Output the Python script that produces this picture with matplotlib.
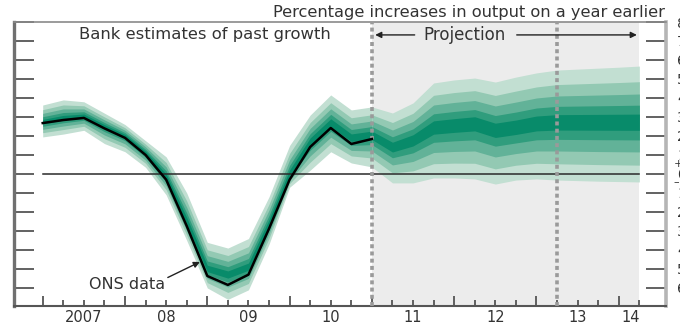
import matplotlib.pyplot as plt

# quarterly observations, plotted at the end of each quarter
past_x = [2007.0, 2007.25, 2007.5, 2007.75, 2008.0, 2008.25, 2008.5, 2008.75,
          2009.0, 2009.25, 2009.5, 2009.75, 2010.0, 2010.25, 2010.5, 2010.75, 2011.0]
ons_growth = [2.68, 2.84, 2.95, 2.4, 1.9, 1.0, -0.3, -2.74,
              -5.37, -5.84, -5.3, -2.88, -0.3, 1.42, 2.42, 1.58, 1.84]
past_mode = [2.75, 2.95, 3.05, 2.5, 2.0, 1.1, -0.15, -2.5,
             -5.0, -5.3, -4.9, -2.6, 0.0, 1.7, 2.7, 1.9, 2.05]
past_upper = [3.63, 3.9, 3.8, 3.2, 2.6, 1.75, 0.9, -1.0,
              -3.6, -3.9, -3.4, -1.2, 1.5, 3.1, 4.16, 3.37, 3.53]
past_lower = [1.95, 2.1, 2.3, 1.6, 1.17, 0.35, -1.1, -3.5,
              -6.0, -6.6, -6.1, -3.7, -0.7, 0.2, 1.17, 0.58, 0.37]

proj_x = [2011.0, 2011.25, 2011.5, 2011.75, 2012.0, 2012.25, 2012.5,
          2012.75, 2013.0, 2013.25, 2013.5, 2013.75, 2014.0, 2014.25]
proj_mode = [2.05, 1.42, 1.79, 2.47, 2.58, 2.68, 2.32,
             2.47, 2.68, 2.74, 2.74, 2.74, 2.74, 2.74]
proj_upper = [3.53, 3.21, 3.74, 4.79, 4.95, 5.05, 4.84,
              5.1, 5.32, 5.47, 5.52, 5.57, 5.62, 5.68]
proj_lower = [0.37, -0.47, -0.47, -0.21, -0.21, -0.26, -0.53,
              -0.32, -0.26, -0.32, -0.35, -0.38, -0.4, -0.42]

# share of the outer band covered by each shade, outside in
band_frac = [1.0, 0.72, 0.5, 0.3, 0.14]
band_colors = ['#c2dfd2', '#93c9b3', '#62b298', '#309d7d', '#088b6a']

years = [2007, 2008, 2009, 2010, 2011, 2012, 2013, 2014]
year_labels = ['2007', '08', '09', '10', '11', '12', '13', '14']
year_label_x = [2007.5, 2008.5, 2009.5, 2010.5, 2011.5, 2012.5, 2013.5, 2014.15]
two_year_line = 2013.25

TXT = '#333333'


def draw_fan(ax, x, mode, lo, hi):
    for frac, col in zip(band_frac, band_colors):
        low = [m - frac * (m - l) for m, l in zip(mode, lo)]
        high = [m + frac * (h - m) for m, h in zip(mode, hi)]
        ax.fill_between(x, low, high, color=col, lw=0, zorder=2)


fig = plt.figure(figsize=(6.8, 3.23), dpi=100)
ax = fig.add_axes([14 / 680, 17 / 323, 652 / 680, 284 / 323])
ax.set_xlim(2006.651, 2014.574)
ax.set_ylim(-6.95, 8.0)

# shaded projection period
ax.axvspan(proj_x[0], proj_x[-1], color='#ececec', lw=0, zorder=0)

draw_fan(ax, past_x, past_mode, past_lower, past_upper)
draw_fan(ax, proj_x, proj_mode, proj_lower, proj_upper)

ax.plot([past_x[0], proj_x[-1]], [0, 0], color='#2a2a2a', lw=1.1, zorder=3)
for xv in [proj_x[0], two_year_line]:
    ax.axvline(xv, color='#9a9a9a', lw=2.6, ls=(0, (1.1, 0.9)), zorder=4)

ax.plot(past_x, ons_growth, color='black', lw=1.8, zorder=5)

# spines
ax.spines['left'].set_color('#707070')
ax.spines['left'].set_linewidth(2.4)
ax.spines['right'].set_color('#b5b5b5')
ax.spines['right'].set_linewidth(2.6)
ax.spines['top'].set_color('#8a8a8a')
ax.spines['top'].set_linewidth(1.2)
ax.spines['bottom'].set_color('#555555')
ax.spines['bottom'].set_linewidth(1.5)

# y ticks, labels on the right only (mostly cut by the image edge)
yt = list(range(-6, 9))
ax.set_yticks(yt)
ax.set_yticklabels([str(abs(v)) for v in yt])
ax.tick_params(axis='y', direction='in', length=14.5, width=1.3, color='#555555',
               left=True, right=True, labelleft=False, labelright=True,
               pad=8, labelsize=10, labelcolor=TXT)
ax.text(1.012, 0.55, '+', transform=ax.get_yaxis_transform(), ha='left', va='center',
        fontsize=8, color=TXT)
ax.text(1.012, -0.45, '\u2013', transform=ax.get_yaxis_transform(), ha='left',
        va='center', fontsize=8, color=TXT)

# quarter ticks on the x axis, year labels centred in each year
ax.set_xticks(years)
ax.set_xticks([q for q in past_x + proj_x[1:] if q not in years], minor=True)
ax.tick_params(axis='x', which='major', direction='in', length=7.5, width=1.3,
               color='#555555', labelbottom=False)
ax.tick_params(axis='x', which='minor', direction='in', length=4, width=1.3,
               color='#555555')
for xv, lab in zip(year_label_x, year_labels):
    ax.text(xv, -0.055, lab, transform=ax.get_xaxis_transform(), ha='center',
            va='baseline', fontsize=10.5, color=TXT)

# headers inside the plot
ax.text(2008.97, 7.32, 'Bank estimates of past growth', ha='center', va='center',
        fontsize=11.8, color=TXT, zorder=6)
ax.text(2012.13, 7.32, 'Projection', ha='center', va='center', fontsize=12,
        color=TXT, zorder=6)
ax.annotate('', xy=(2011.04, 7.32), xytext=(2011.52, 7.32),
            arrowprops=dict(arrowstyle='-|>', color='#222222', lw=1.0,
                            mutation_scale=9, shrinkA=0, shrinkB=0), zorder=6)
ax.annotate('', xy=(2014.22, 7.32), xytext=(2012.76, 7.32),
            arrowprops=dict(arrowstyle='-|>', color='#222222', lw=1.0,
                            mutation_scale=9, shrinkA=0, shrinkB=0), zorder=6)

# ONS data label
ax.text(2008.03, -5.84, 'ONS data', ha='center', va='center', fontsize=11.5,
        color=TXT, zorder=6)
ax.annotate('', xy=(2008.91, -4.63), xytext=(2008.52, -5.45),
            arrowprops=dict(arrowstyle='-|>', color='#222222', lw=1.0,
                            mutation_scale=9, shrinkA=0, shrinkB=0), zorder=6)

fig.text(665 / 680, 1 - 12 / 323, 'Percentage increases in output on a year earlier',
         ha='right', va='center', fontsize=11.7, color=TXT)

fig.savefig('out.png', dpi=100)
